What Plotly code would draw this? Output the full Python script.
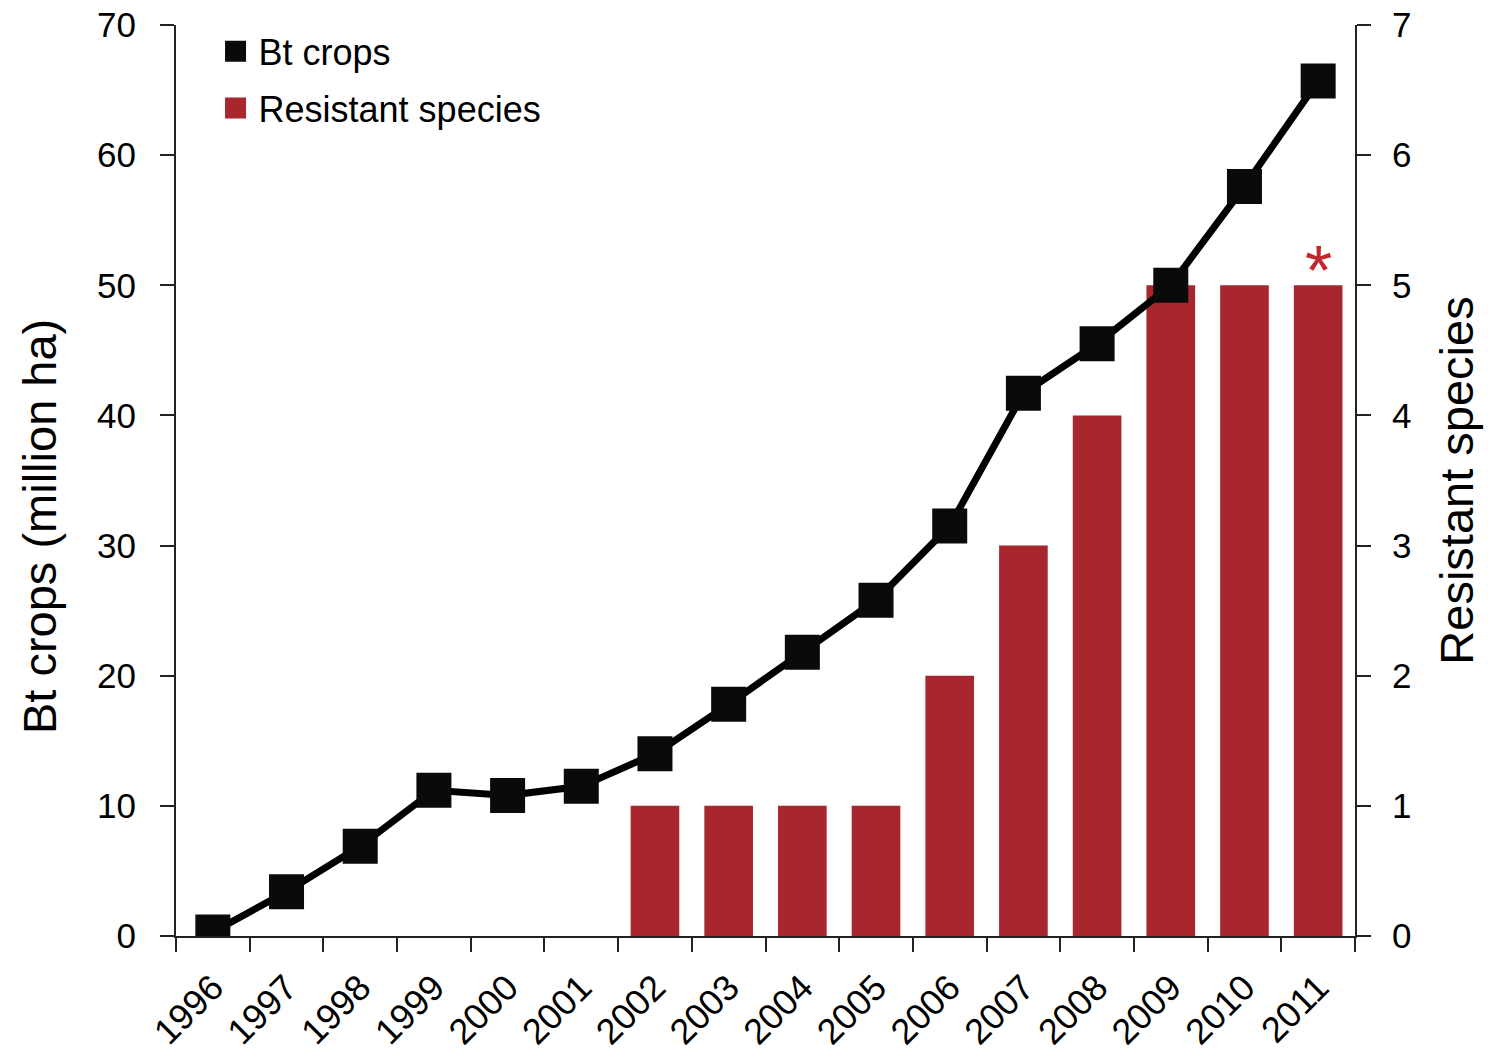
import plotly.graph_objects as go

# Bt crop area (million ha) and number of resistant pest species, by year
years = [str(y) for y in range(1996, 2012)]
bt_crops = [0.3, 3.4, 6.9, 11.2, 10.8, 11.5, 14.0, 17.8, 21.8, 25.8,
            31.5, 41.7, 45.5, 50.0, 57.6, 65.7]
resist_years = [str(y) for y in range(2002, 2012)]
resistant_species = [1, 1, 1, 1, 2, 3, 4, 5, 5, 5]

left_ticks = [0, 10, 20, 30, 40, 50, 60, 70]
right_ticks = [0, 1, 2, 3, 4, 5, 6, 7]

RED = "#A8262D"
FONT = "Liberation Sans, Arial, Helvetica, sans-serif"

fig = go.Figure()

# bars on the primary (right-hand) axis so the line is drawn over them
fig.add_trace(go.Bar(
    x=resist_years, y=resistant_species, yaxis="y",
    marker=dict(color=RED, line=dict(width=0)),
    width=0.66, showlegend=False, name="Resistant species",
))

fig.add_trace(go.Scatter(
    x=years, y=bt_crops, yaxis="y2", mode="lines+markers",
    line=dict(color="black", width=7),
    marker=dict(symbol="square", size=35, color="#0a0a0a"),
    showlegend=False, name="Bt crops",
))

# legend entries (square swatches only)
fig.add_trace(go.Scatter(
    x=[None], y=[None], yaxis="y2", mode="markers", name="Bt crops",
    legendgroup="a",
    marker=dict(symbol="square", size=16, color="#0a0a0a",
                line=dict(color="#0a0a0a", width=5)),
))
fig.add_trace(go.Scatter(
    x=[None], y=[None], yaxis="y2", mode="markers", name="Resistant species",
    legendgroup="b",
    marker=dict(symbol="square", size=16, color=RED,
                line=dict(color=RED, width=5)),
))

# asterisk over the last bar (category axis: position by index)
fig.add_annotation(
    x=years.index(resist_years[-1]), y=resistant_species[-1],
    xref="x", yref="y",
    text="*", showarrow=False, yanchor="middle", yshift=14,
    font=dict(size=70, color="#C0282E", family=FONT),
)

# left axis title, set slightly below the axis midpoint
fig.add_annotation(
    x=-0.1153, y=0.449, xref="paper", yref="paper",
    text="Bt crops (million ha)", textangle=-90, showarrow=False,
    xanchor="center", yanchor="middle",
    font=dict(size=47, color="black", family=FONT),
)

axis_common = dict(
    showline=True, linecolor="#222", linewidth=2,
    ticks="outside", ticklen=14, tickwidth=2, tickcolor="#222",
    showgrid=False, zeroline=False, automargin=False,
)

fig.update_layout(
    width=1488, height=1053,
    margin=dict(l=176, r=133, t=25, b=117),
    plot_bgcolor="white", paper_bgcolor="white",
    font=dict(family=FONT, color="black"),
    xaxis=dict(
        type="category", categoryorder="array", categoryarray=years,
        range=[-0.5, 15.5], tickson="boundaries",
        tickangle=-45, ticklabelstandoff=14,
        tickfont=dict(size=36, color="black", family=FONT),
        **axis_common,
    ),
    yaxis=dict(
        side="right", range=[0, 7], tickvals=right_ticks,
        ticklabelstandoff=14,
        tickfont=dict(size=35, color="black", family=FONT),
        title=dict(text="Resistant species", font=dict(size=47), standoff=30),
        **axis_common,
    ),
    yaxis2=dict(
        side="left", overlaying="y", range=[0, 70], tickvals=left_ticks,
        ticklabelstandoff=17,
        tickfont=dict(size=35, color="black", family=FONT),
        **axis_common,
    ),
    legend=dict(
        x=0.031, y=1.004, xanchor="left", yanchor="top",
        bgcolor="rgba(0,0,0,0)", font=dict(size=36, family=FONT),
        traceorder="grouped", tracegroupgap=7, itemwidth=36,
    ),
)

fig.write_html("out.html")
